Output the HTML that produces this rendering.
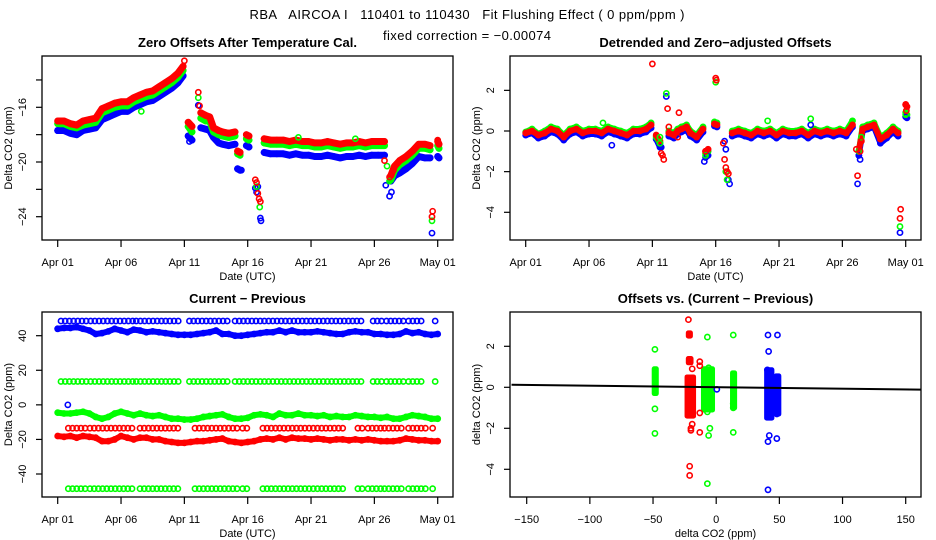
<!DOCTYPE html>
<html><head><meta charset="utf-8"><style>
html,body{margin:0;padding:0;background:#fff;}
svg{display:block;font-family:"Liberation Sans",Arial,sans-serif;}
</style></head><body>
<svg id="chart" width="936" height="540" viewBox="0 0 936 540" xmlns="http://www.w3.org/2000/svg">
<rect x="0" y="0" width="936" height="540" fill="#fff"/>
<text x="467" y="19" font-size="13" text-anchor="middle" xml:space="preserve" textLength="435">RBA   AIRCOA I   110401 to 110430   Fit Flushing Effect ( 0 ppm/ppm )</text>
<text x="467" y="40" font-size="13" text-anchor="middle" textLength="168">fixed correction = −0.00074</text>
<g id="layer"></g>
</svg>
<script>
// ---------- data ----------
const dateTicks = [0,5,10,15,20,25,30];
const dateLabels = ["Apr 01","Apr 06","Apr 11","Apr 16","Apr 21","Apr 26","May 01"];
const t1 = [0,0.5,1,1.5,2,2.5,3,3.5,4,4.5,5,5.5,6,6.5,7,7.5,8,8.5,9,9.5,9.9,null,10.3,10.6,null,11.3,11.7,12,12.3,12.7,13,13.5,14,null,14.2,14.4,null,14.9,15.1,null,16.3,16.8,17.3,17.8,18.3,18.8,19.3,19.8,20.3,20.8,21.3,21.8,22.3,22.8,23.3,23.8,24.3,24.8,25.3,25.8,null,26.3,26.6,27,27.5,28,28.5,29,29.4,null,30,30.1];
const zeroRed = [-17.0,-17.0,-17.2,-17.3,-17.0,-16.9,-16.8,-16.1,-15.9,-15.7,-15.6,-15.6,-15.3,-15.1,-14.9,-14.8,-14.5,-14.2,-13.9,-13.5,-13.0,null,-17.1,-17.4,null,-16.4,-16.6,-16.7,-17.5,-17.7,-17.8,-17.9,-17.8,null,-19.2,-19.3,null,-18.0,-18.1,null,-18.3,-18.4,-18.4,-18.4,-18.5,-18.4,-18.5,-18.5,-18.6,-18.6,-18.5,-18.6,-18.7,-18.6,-18.6,-18.5,-18.6,-18.5,-18.5,-18.5,null,-21.0,-20.3,-19.9,-19.6,-19.2,-18.7,-18.7,-18.8,null,-18.5,-18.7];
const zeroGreen = [-17.2,-17.2,-17.4,-17.5,-17.3,-17.2,-17.1,-16.4,-16.2,-16.0,-15.9,-15.9,-15.6,-15.4,-15.2,-15.1,-14.8,-14.5,-14.2,-13.8,-13.3,null,-17.4,-17.8,null,-16.8,-17.0,-17.0,-17.8,-18.0,-18.1,-18.2,-18.1,null,-19.4,-19.5,null,-18.3,-18.4,null,-18.6,-18.7,-18.7,-18.7,-18.8,-18.7,-18.8,-18.8,-18.9,-18.9,-18.8,-18.9,-19.0,-18.9,-18.9,-18.8,-18.9,-18.8,-18.8,-18.8,null,-21.3,-20.6,-20.2,-19.9,-19.5,-19.0,-19.0,-19.1,null,-18.8,-19.0];
const zeroBlue = [-17.7,-17.7,-17.9,-18.0,-17.7,-17.6,-17.5,-16.9,-16.7,-16.5,-16.3,-16.3,-16.0,-15.8,-15.6,-15.5,-15.2,-14.9,-14.6,-14.2,-13.7,null,-18.1,-18.4,null,-17.5,-17.6,-17.7,-18.2,-18.6,-18.7,-18.8,-18.7,null,-20.5,-20.6,null,-18.8,-18.9,null,-19.3,-19.4,-19.4,-19.4,-19.5,-19.4,-19.5,-19.5,-19.6,-19.6,-19.5,-19.6,-19.7,-19.6,-19.6,-19.5,-19.6,-19.5,-19.5,-19.5,null,-21.4,-21.0,-20.8,-20.5,-20.1,-19.6,-19.7,-19.7,null,-19.6,-19.7];
const zeroRedOut = [[10.0,-12.6],[11.1,-14.9],[11.2,-15.9],[15.6,-21.3],[15.7,-21.5],[15.8,-22.3],[15.9,-22.7],[16.0,-22.9],[25.8,-19.9],[26.2,-21.1],[26.5,-20.6],[29.6,-23.6],[29.55,-24.0],[30.0,-18.4]];
const zeroGreenOut = [[11.1,-15.3],[15.7,-21.8],[15.95,-23.3],[26.0,-20.3],[26.2,-21.4],[29.55,-24.3],[6.6,-16.3],[19.0,-18.2],[23.5,-18.3]];
const zeroBlueOut = [[0,-17.7],[10.4,-18.5],[11.1,-15.85],[14.5,-20.6],[15.6,-21.9],[15.7,-22.2],[15.8,-21.8],[16.0,-24.1],[16.05,-24.3],[25.9,-21.7],[26.2,-22.5],[26.35,-22.2],[29.55,-25.2]];

const detRed = [-0.1,0.0,-0.2,-0.1,0.1,0.0,-0.3,0.0,0.1,-0.1,0.0,0.0,-0.1,0.1,0.0,-0.1,-0.2,0.0,0.0,0.1,0.3,null,-0.2,-0.5,null,-0.1,-0.2,0.0,0.1,0.2,-0.1,-0.3,0.1,null,-1.0,-0.9,null,0.35,0.3,null,-0.1,0.0,-0.1,-0.2,0.0,-0.1,0.0,-0.2,0.0,-0.1,-0.1,0.0,-0.2,0.0,-0.1,0.0,-0.1,0.0,-0.1,0.3,null,-1.0,0.1,0.2,0.3,-0.4,-0.2,0.1,-0.1,null,1.3,1.2];
const detGreen = [-0.05,0.1,-0.15,0.0,0.2,0.1,-0.2,0.1,0.2,0.0,0.1,0.1,0.0,0.2,0.1,0.0,-0.1,0.1,0.1,0.2,0.4,null,-0.3,-0.6,null,0.0,-0.1,0.1,0.2,0.3,0.0,-0.2,0.2,null,-1.1,-1.0,null,0.45,0.4,null,0.0,0.1,0.0,-0.1,0.1,0.0,0.1,-0.1,0.1,0.0,0.0,0.1,-0.1,0.1,0.0,0.1,0.0,0.1,0.0,0.5,null,-1.0,0.2,0.3,0.4,-0.3,-0.1,0.2,0.0,null,0.9,0.8];
const detBlue = [-0.2,-0.1,-0.35,-0.25,-0.05,-0.15,-0.45,-0.15,-0.05,-0.25,-0.15,-0.15,-0.25,-0.05,-0.15,-0.25,-0.35,-0.15,-0.15,-0.05,0.15,null,-0.4,-0.8,null,-0.25,-0.35,-0.15,-0.05,0.05,-0.25,-0.45,-0.05,null,-1.3,-1.2,null,0.25,0.2,null,-0.25,-0.15,-0.25,-0.35,-0.15,-0.25,-0.15,-0.35,-0.15,-0.25,-0.25,-0.15,-0.35,-0.15,-0.25,-0.15,-0.25,-0.15,-0.25,0.2,null,-1.2,0.0,0.1,0.2,-0.6,-0.35,-0.05,-0.25,null,0.7,0.65];
const detRedOut = [[10.0,3.3],[10.7,-1.1],[10.8,-1.2],[10.9,-1.4],[11.2,1.1],[11.3,0.2],[12.1,0.9],[12.0,-0.3],[14.2,-1.0],[15.0,2.6],[15.05,2.5],[15.6,-0.6],[15.7,-1.4],[15.8,-1.8],[15.9,-2.0],[16.0,-2.1],[26.1,-0.9],[26.2,-2.2],[26.4,-1.0],[26.5,-0.5],[29.6,-3.85],[29.55,-4.3],[30.0,1.3],[30.05,1.0]];
const detGreenOut = [[10.6,-0.3],[10.6,-0.6],[11.1,1.85],[14.2,-1.2],[15.0,2.4],[15.8,-2.0],[15.9,-2.4],[19.1,0.5],[22.5,0.6],[6.1,0.4],[26.3,-1.0],[26.5,-0.3],[29.55,-4.7],[30.0,0.8]];
const detBlueOut = [[10.7,-0.8],[11.1,1.7],[14.1,-1.5],[14.3,-1.2],[15.7,-0.5],[15.8,-0.9],[16.0,-2.4],[16.1,-2.6],[26.3,-1.2],[26.2,-2.6],[26.4,-1.4],[29.55,-5.0],[30.0,0.7],[6.8,-0.7],[22.5,0.3]];

const t3 = [0,0.5,1,1.5,2,2.5,3,3.5,4,4.5,5,5.5,6,6.5,7,7.5,8,8.5,9,9.5,10,10.5,11,11.5,12,12.5,13,13.5,14,14.5,15,15.5,16,16.5,17,17.5,18,18.5,19,19.5,20,20.5,21,21.5,22,22.5,23,23.5,24,24.5,25,25.5,26,26.5,27,27.5,28,28.5,29,29.5,30];
const cpBlue = [44,44.5,44.5,45,44,43,41,41.5,42.5,44,43,42,43.5,43,42,42.5,42,41.5,41,40.5,40.5,40.5,41,41.5,42,43,41,41,40,40,40.5,41,41.5,42,42,43,42,43,42,42,42,42.5,42,41.5,41,41,42,42.5,42,42,41,41,40.5,40.5,41,42.5,41.5,42,41,40.5,41];
const cpGreen = [-4.5,-5,-5,-4.5,-4,-5,-7,-8,-7,-5,-4,-5,-6,-5,-6,-6.5,-6,-7,-8,-8,-8.5,-8.5,-8,-7,-6.5,-6,-5.5,-7,-8,-8,-7.5,-6,-5.5,-6,-7,-5,-6,-6,-5,-6,-6,-6.5,-6,-7,-6.5,-7,-7,-6,-6.5,-7,-7,-7.5,-7,-8,-8,-7,-6,-6.5,-7,-8,-8];
const cpRed = [-18,-18.5,-18,-19,-18,-18.5,-19,-21,-21,-20,-18,-19,-20,-19,-19,-20,-20,-21,-21.5,-22,-22,-21.5,-21,-21,-20.5,-20,-19.5,-21,-21.5,-22,-21.5,-21,-20,-19.5,-20,-19,-20,-19,-19.5,-19.5,-20,-19.5,-20,-20.5,-20,-20,-20.5,-20,-20.5,-20,-20.5,-21,-21,-21,-20.5,-19.5,-20,-20.5,-20.5,-21,-21];
const rowSegA = [[0.26,2.4],[2.6,5.97],[6.2,9.65],[10.4,13.6],[14.0,24.1],[24.9,25.7],[25.96,27.3],[27.7,28.9],[29.8,29.8]];
const rowSegB = [[0.84,2.37],[2.55,6.1],[6.5,9.79],[10.84,14.2],[14.6,15.1],[16.2,22.8],[23.7,24.3],[24.5,25.5],[25.8,27.3],[27.7,29.1],[29.6,29.6]];
const rowBlueVal = 48.5, rowGreenHiVal = 13.5, rowRedVal = -13.5, rowGreenLoVal = -48.5;
const cpBlueOut = [[0.8,0],[0,44]];

const scRedBoxes = [[-23,-18,-1.4,0.5],[-22,-20,1.2,1.4],[-22,-20.5,2.5,2.65]];
const scGreenBoxes = [[-10,-3,-1.1,0.9],[-49,-47.5,-0.3,0.9],[13,14.5,-1.0,0.7]];
const scBlueBoxes = [[40,44,-1.5,0.85],[47.5,49.5,-1.3,0.55]];
const scRedOut = [[-22,3.3],[-19,0.9],[-13,1.25],[-13,1.05],[-13,-1.25],[-19,-1.8],[-20,-2.0],[-20,-2.1],[-13,-2.2],[-21,-3.85],[-21,-4.3],[-22,-1.0]];
const scGreenOut = [[-48.5,1.85],[-48.5,-1.05],[-48.5,-2.25],[-7,2.45],[-6,0.95],[-7,-1.2],[-5,-2.0],[-6,-2.35],[-7,-4.7],[13.5,2.55],[13.5,-0.8],[13.5,-1.0],[13.5,-2.2]];
const scBlueOut = [[41,2.55],[48.5,2.55],[41.5,1.75],[40.5,0.85],[48,-1.0],[48,-1.3],[42,-2.35],[41,-2.65],[48,-2.5],[41,-5.0],[0.5,-0.1]];
const fitSlope = -0.00074;
const fitIntercept = 0.005;
const scXTicks = [-150,-100,-50,0,50,100,150];

// ---------- rendering ----------
const NS = "http://www.w3.org/2000/svg";
const layer = document.getElementById("layer");
const RED="#ff0000", GREEN="#00ff00", BLUE="#0000ff";
function mk(tag, attrs, parent){
  const e = document.createElementNS(NS, tag);
  for (const k in attrs) e.setAttribute(k, attrs[k]);
  (parent||layer).appendChild(e);
  return e;
}
function lin(d0,d1,r0,r1){ return v => r0 + (v-d0)*(r1-r0)/(d1-d0); }

const P = {
  tl:{x0:42,x1:453,y0:56,y1:240, xs:lin(0,30,57.7,437.7), ys:lin(-16,-24,107.3,216.7)},
  tr:{x0:510,x1:921,y0:56,y1:240, xs:lin(0,30,525.7,905.7), ys:lin(0,-4,131,212.3)},
  bl:{x0:42,x1:453,y0:312,y1:497, xs:lin(0,30,57.7,437.7), ys:lin(40,-40,335.7,474)},
  br:{x0:510,x1:921,y0:312,y1:497, xs:lin(-150,150,526.7,905.7), ys:lin(2,-4,346.3,469.3)}
};

function frame(p, name, title, xlab, ylab, xt, xl, yt, yl){
  const g = mk("g",{});
  
  
  const box = mk("rect",{x:p.x0,y:p.y0,width:p.x1-p.x0,height:p.y1-p.y0,fill:"none",stroke:"#000","stroke-width":1.3},g);
  
  
  const cx = (p.x0+p.x1)/2;
  const tt = mk("text",{x:cx,y:p.y0-9,"font-size":13,"font-weight":"bold","text-anchor":"middle"},g);
  tt.textContent = title;
  
  
  const xa = mk("g",{},g);
  
  
  xt.forEach((v,i)=>{
    const x = p.xs(v);
    mk("line",{x1:x,y1:p.y1,x2:x,y2:p.y1+7,stroke:"#000","stroke-width":1.2},xa);
    const t = mk("text",{x:x,y:p.y1+26,"font-size":11,"text-anchor":"middle"},xa);
    t.textContent = xl[i];
    
    
  });
  const xt2 = mk("text",{x:cx,y:p.y1+40,"font-size":11,"text-anchor":"middle"},g);
  xt2.textContent = xlab;
  
  
  const ya = mk("g",{},g);
  
  
  yt.forEach((v,i)=>{
    const y = p.ys(v);
    mk("line",{x1:p.x0-6,y1:y,x2:p.x0,y2:y,stroke:"#000","stroke-width":1.2},ya);
    if (yl[i] !== "") {
      const t = mk("text",{x:p.x0-16,y:y,"font-size":11,"text-anchor":"middle",transform:`rotate(-90 ${p.x0-16} ${y})`},ya);
      t.textContent = yl[i];
      
      
    }
  });
  const cy = (p.y0+p.y1)/2;
  const yt2 = mk("text",{x:p.x0-30,y:cy,"font-size":11,"text-anchor":"middle",transform:`rotate(-90 ${p.x0-30} ${cy})`},g);
  yt2.textContent = ylab;
  
  
}

function clipRect(p, id){
  const cp = mk("clipPath",{id:id});
  mk("rect",{x:p.x0,y:p.y0,width:p.x1-p.x0,height:p.y1-p.y0},cp);
}
function circ(g,x,y,c){ mk("circle",{cx:x,cy:y,r:2.6,fill:"none",stroke:c,"stroke-width":1.6},g); }

function band(p, ts, vs, color, name, w){
  const g = mk("g",{"clip-path":`url(#clip-${name.split('-')[0]})`});
  
  
  let seg = [];
  const flush = ()=>{
    if (seg.length>1) mk("polyline",{points:seg.join(" "),fill:"none",stroke:color,"stroke-width":w,"stroke-linejoin":"round","stroke-linecap":"round"},g);
    seg = [];
  };
  ts.forEach((t,i)=>{
    if (t===null || vs[i]===null){ flush(); return; }
    const x=p.xs(t), y=p.ys(vs[i]);
    seg.push(x.toFixed(1)+","+y.toFixed(1));
    circ(g,x,y,color);
  });
  flush();
}
function outs(p, pts, color, name, prefix){
  const g = mk("g",{});
  
  
  pts.forEach(d=>circ(g,p.xs(d[0]),p.ys(d[1]),color));
}
function rows(p, segs, val, color, name){
  const g = mk("g",{});
  
  
  const y = p.ys(val);
  segs.forEach(s=>{
    const xa=p.xs(s[0]), xb=p.xs(s[1]);
    for (let x=xa; x<=xb+0.01; x+=4.2) circ(g,x,y,color);
  });
}
function boxes(p, bs, color, name){
  const g = mk("g",{});
  
  
  bs.forEach(b=>{
    const xa=p.xs(b[0])-2.6, xb=p.xs(b[1])+2.6, ya=p.ys(b[3])-2.6, yb=p.ys(b[2])+2.6;
    mk("rect",{x:xa,y:ya,width:xb-xa,height:yb-ya,rx:2.5,fill:color},g);
  });
}

// panel clips
clipRect(P.tl,"clip-zero"); clipRect(P.tr,"clip-det"); clipRect(P.bl,"clip-cp");

// TL
frame(P.tl,"zero-offsets-panel","Zero Offsets After Temperature Cal.","Date (UTC)","Delta CO2 (ppm)",
  dateTicks,dateLabels,[-14,-16,-18,-20,-22,-24],["","-16","","-20","","-24"].map(s=>s.replace("-","−")));
band(P.tl,t1,zeroBlue,BLUE,"zero-blue-series",7);
band(P.tl,t1,zeroGreen,GREEN,"zero-green-series",7);
band(P.tl,t1,zeroRed,RED,"zero-red-series",7);
outs(P.tl,zeroBlueOut,BLUE,"zero-blue-outliers");
outs(P.tl,zeroGreenOut,GREEN,"zero-green-outliers");
outs(P.tl,zeroRedOut,RED,"zero-red-outliers");

// TR
frame(P.tr,"detrended-panel","Detrended and Zero−adjusted Offsets","Date (UTC)","Delta CO2 (ppm)",
  dateTicks,dateLabels,[2,0,-2,-4],["2","0","−2","−4"]);
band(P.tr,t1,detBlue,BLUE,"det-blue-series",6);
band(P.tr,t1,detGreen,GREEN,"det-green-series",6);
band(P.tr,t1,detRed,RED,"det-red-series",6);
outs(P.tr,detBlueOut,BLUE,"det-blue-outliers");
outs(P.tr,detGreenOut,GREEN,"det-green-outliers");
outs(P.tr,detRedOut,RED,"det-red-outliers");

// BL
frame(P.bl,"current-previous-panel","Current − Previous","Date (UTC)","Delta CO2 (ppm)",
  dateTicks,dateLabels,[40,20,0,-20,-40],["40","20","0","−20","−40"]);
rows(P.bl,rowSegA,rowBlueVal,BLUE,"cp-blue-row");
rows(P.bl,rowSegA,rowGreenHiVal,GREEN,"cp-green-high-row");
rows(P.bl,rowSegB,rowRedVal,RED,"cp-red-row");
rows(P.bl,rowSegB,rowGreenLoVal,GREEN,"cp-green-low-row");
band(P.bl,t3,cpBlue,BLUE,"cp-blue-series",6);
band(P.bl,t3,cpGreen,GREEN,"cp-green-series",6);
band(P.bl,t3,cpRed,RED,"cp-red-series",6);
outs(P.bl,cpBlueOut,BLUE,"cp-blue-outliers");

// BR
frame(P.br,"offsets-vs-diff-panel","Offsets vs. (Current − Previous)","delta CO2 (ppm)","delta CO2 (ppm)",
  scXTicks,scXTicks.map(v=>String(v).replace("-","−")),[2,0,-2,-4],["2","0","−2","−4"]);
boxes(P.br,scGreenBoxes,GREEN,"scatter-green-clusters");
boxes(P.br,scRedBoxes,RED,"scatter-red-clusters");
boxes(P.br,scBlueBoxes,BLUE,"scatter-blue-clusters");
outs(P.br,scGreenOut,GREEN,"scatter-green-points");
outs(P.br,scRedOut,RED,"scatter-red-points");
outs(P.br,scBlueOut,BLUE,"scatter-blue-points");
const fx0=-162, fx1=162;
const fit = mk("line",{x1:P.br.xs(fx0),y1:P.br.ys(fitIntercept+fitSlope*fx0),x2:P.br.xs(fx1),y2:P.br.ys(fitIntercept+fitSlope*fx1),stroke:"#000","stroke-width":2});


</script>
</body></html>
